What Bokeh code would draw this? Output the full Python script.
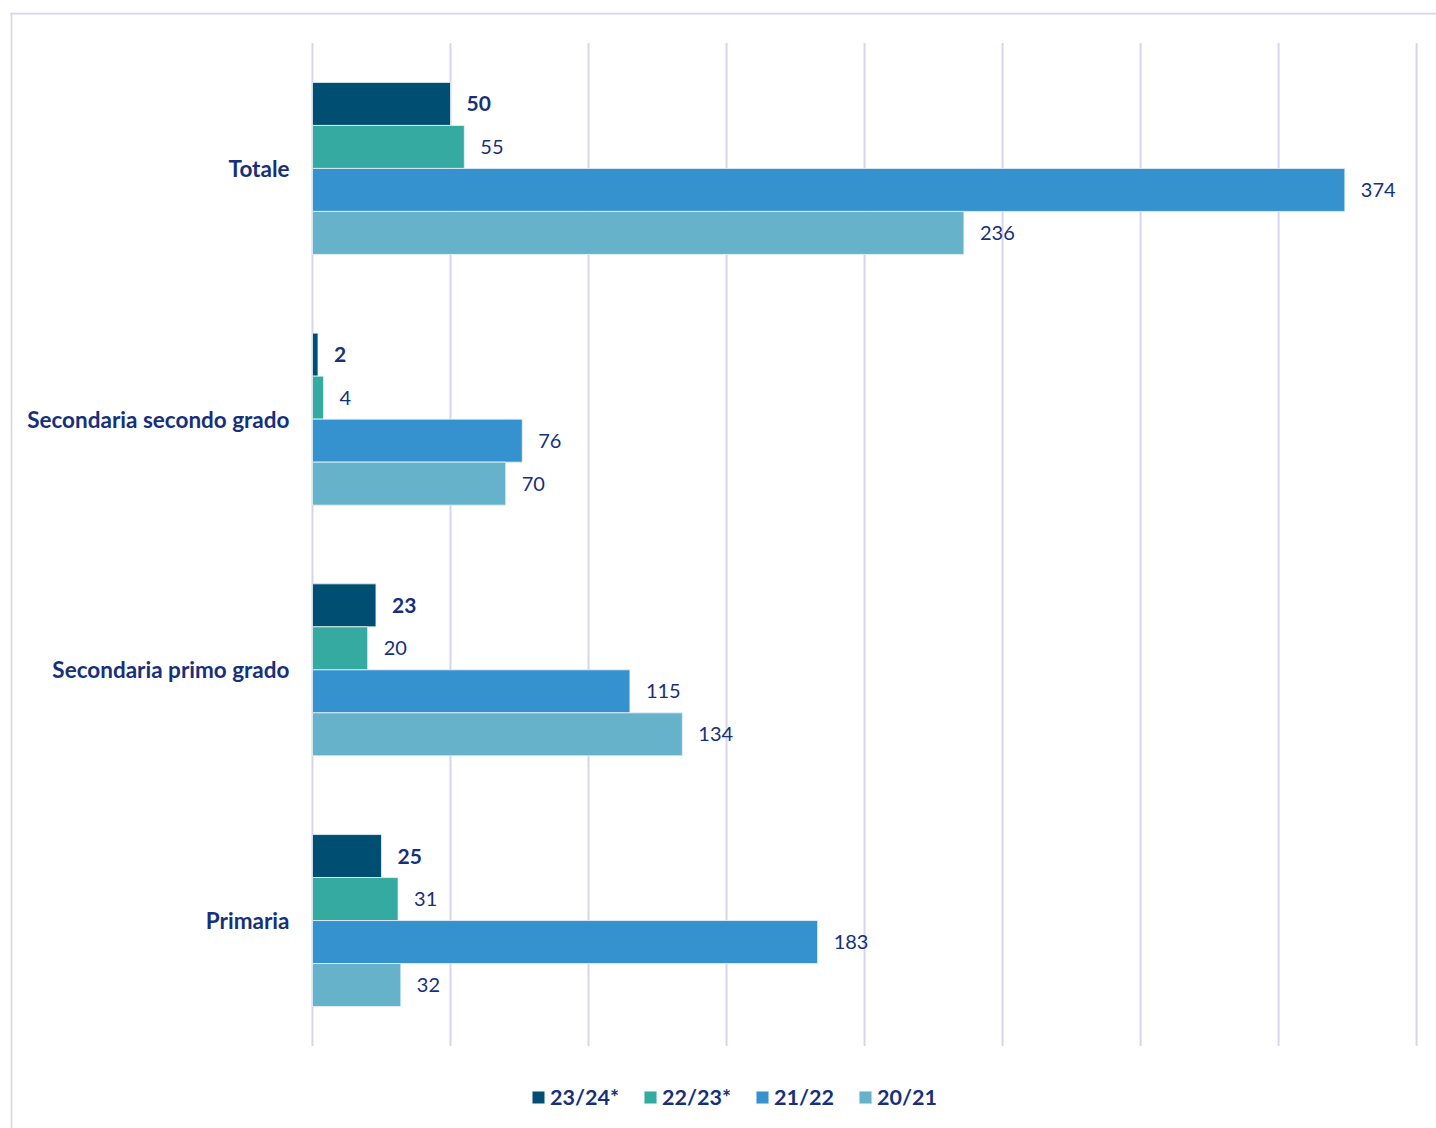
from bokeh.plotting import figure
from bokeh.models import ColumnDataSource, Legend, LegendItem, Span
from bokeh.core.properties import value
from bokeh.embed import file_html
from bokeh.resources import INLINE

# ---- data ----
categories = ["Totale", "Secondaria secondo grado", "Secondaria primo grado", "Primaria"]
series_names = ["23/24*", "22/23*", "21/22", "20/21"]
v_2324 = [50, 2, 23, 25]
v_2223 = [55, 4, 20, 31]
v_2122 = [374, 76, 115, 183]
v_2021 = [236, 70, 134, 32]
grid_ticks = [0, 50, 100, 150, 200, 250, 300, 350, 400]

colors = ["#004f73", "#35aaa1", "#3692cf", "#66b2cb"]
text_color = "#16307a"
grid_color = "#d8d4f0"
FONT = "Lato"

all_values = [v_2324, v_2223, v_2122, v_2021]
n = len(categories)
ypos = [n - 1 - i for i in range(n)]  # Totale on top

W, H = 1436, 1128
X0, X1 = -109.4, 407.2
Y0, Y1 = -0.8295, 3.622
p = figure(width=W, height=H, output_backend="svg", toolbar_location=None,
           x_range=(X0, X1), y_range=(Y0, Y1),
           min_border_left=10, min_border_top=12, min_border_right=0, min_border_bottom=0)
p.axis.visible = False
p.xgrid.visible = False
p.ygrid.visible = False
p.outline_line_color = None
p.background_fill_color = "white"
p.border_fill_color = "white"

# frame border (top and left)
p.add_layout(Span(location=X0 + 0.3, dimension="height", line_color=grid_color, line_width=2))
p.add_layout(Span(location=Y1 - 0.004, dimension="width", line_color=grid_color, line_width=2))

# vertical gridlines
p.segment(x0=grid_ticks, x1=grid_ticks, y0=[-0.5] * len(grid_ticks), y1=[n - 0.5] * len(grid_ticks),
          line_color=grid_color, line_width=2)

bar_h = 0.1715
offsets = [1.5 * bar_h, 0.5 * bar_h, -0.5 * bar_h, -1.5 * bar_h]
legend_items = []
for k, (vals, name, col) in enumerate(zip(all_values, series_names, colors)):
    src = ColumnDataSource(dict(y=[yy + offsets[k] for yy in ypos], right=vals,
                                lab=[str(v) for v in vals]))
    r = p.hbar(y="y", left=0, right="right", height=bar_h, source=src,
               fill_color=col, line_color="#e8f2f8", line_width=1, line_alpha=0.8)
    legend_items.append(LegendItem(label=name, renderers=[r]))
    p.text(x="right", y="y", text="lab", source=src, x_offset=16,
           text_align="left", text_baseline="middle",
           text_font=value(FONT), text_font_size="21px" if k == 0 else "20px",
           text_font_style="bold" if k == 0 else "normal", text_color=text_color)

# category labels
csrc = ColumnDataSource(dict(x=[0] * n, y=ypos, t=categories))
p.text(x="x", y="y", text="t", source=csrc, x_offset=-23, text_align="right",
       text_baseline="middle", text_font=value(FONT), text_font_size="22.5px",
       text_font_style="bold", text_color=text_color)

legend = Legend(items=legend_items, orientation="horizontal", location=(520, 18),
                glyph_width=16, glyph_height=16, label_standoff=4, spacing=23,
                label_text_font=FONT, label_text_font_size="21.5px", label_text_font_style="bold",
                label_text_color=text_color, border_line_color=None,
                background_fill_alpha=0, padding=0, margin=0)
p.add_layout(legend)

open("out.html", "w").write(file_html(p, INLINE))
